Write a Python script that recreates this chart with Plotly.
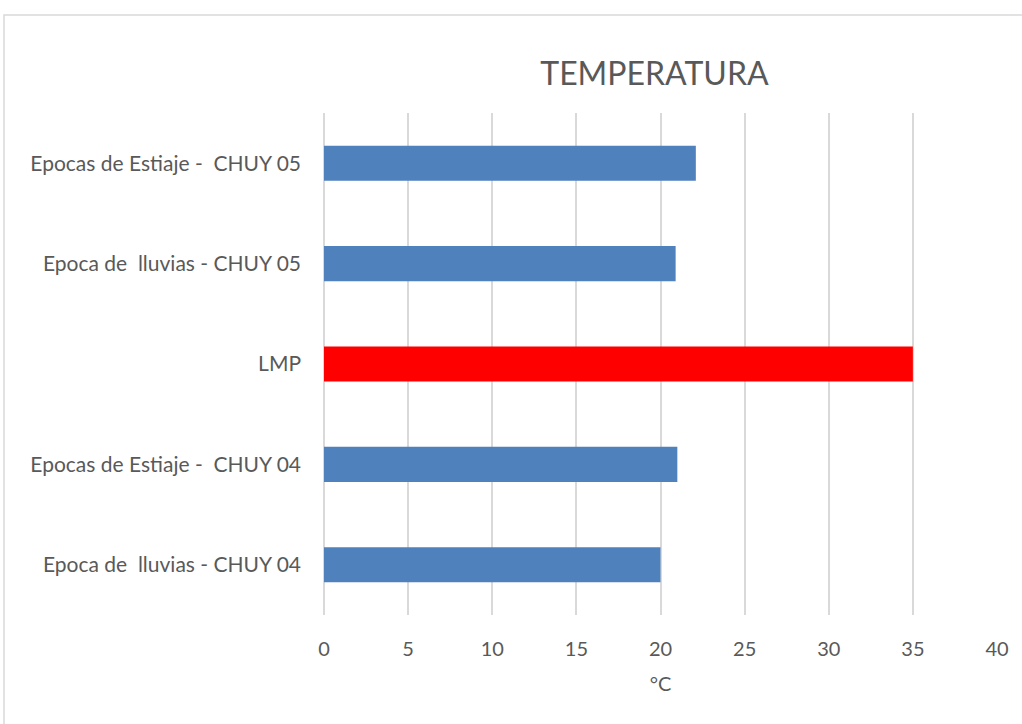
import plotly.graph_objects as go

categories = [
    "Epoca de  lluvias - CHUY 04",
    "Epocas de Estiaje -  CHUY 04",
    "LMP",
    "Epoca de  lluvias - CHUY 05",
    "Epocas de Estiaje -  CHUY 05",
]
values = [20.0, 21.0, 35.0, 20.9, 22.1]
colors = ["#4F81BD", "#4F81BD", "#FF0000", "#4F81BD", "#4F81BD"]
x_ticks = [0, 5, 10, 15, 20, 25, 30, 35, 40]

ticktext = [c.replace("  ", " \u00a0") for c in categories]

fig = go.Figure(go.Bar(
    y=categories, x=values, orientation="h",
    marker=dict(color=colors, line=dict(width=0)),
))

FONT = "Lato, 'Open Sans', sans-serif"
fig.update_layout(
    width=1022, height=724,
    margin=dict(l=324, r=25, t=113, b=109),
    paper_bgcolor="white", plot_bgcolor="white",
    bargap=0.65,
    showlegend=False,
    font=dict(family=FONT, color="#595959", size=20),
    title=dict(text="TEMPERATURA", x=0.491, xanchor="center", xref="paper",
               y=1 - 74 / 724, yref="container", yanchor="middle",
               font=dict(size=32, color="#595959", family=FONT)),
)
fig.update_xaxes(
    range=[0, 40], tickvals=x_ticks, showgrid=True, gridcolor="#D9D9D9", gridwidth=1.5,
    zeroline=True, zerolinecolor="#D9D9D9", zerolinewidth=1.5,
    showline=False, ticks="", ticklabelstandoff=20,
    tickfont=dict(size=20, color="#595959"),
    title=dict(text="°C", font=dict(size=20, color="#595959"), standoff=17),
)
fig.update_yaxes(
    categoryorder="array", categoryarray=categories,
    tickvals=categories, ticktext=ticktext,
    showgrid=False, zeroline=False, showline=False, ticks="",
    ticklabelstandoff=22, tickfont=dict(size=21, color="#595959"),
)
# outer chart frame
fig.add_shape(type="rect", xref="paper", yref="paper",
              x0=(4 - 324) / 673, x1=(1030 - 324) / 673,
              y0=(615 - 730) / 502, y1=(615 - 15) / 502,
              line=dict(color="#D9D9D9", width=1.5), fillcolor="rgba(0,0,0,0)", layer="below")

fig.write_html("out.html", config={"displayModeBar": False},
               post_script="document.body.style.margin='0';")
